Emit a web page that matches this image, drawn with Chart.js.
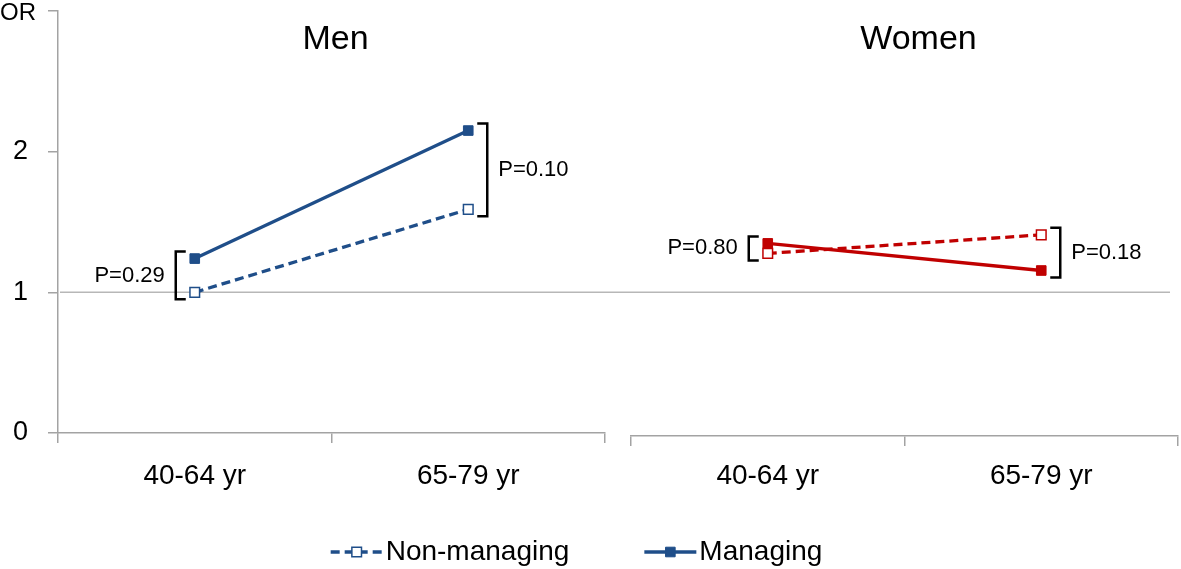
<!DOCTYPE html>
<html>
<head>
<meta charset="utf-8">
<script src="https://cdn.jsdelivr.net/npm/chart.js@4.4.0/dist/chart.umd.min.js"></script>
<style>
  html, body { margin: 0; padding: 0; background: #fff; }
  #wrap { position: relative; width: 1181px; height: 569px; overflow: hidden; }
  #wrap canvas { position: absolute; left: 0; top: 0; }
</style>
</head>
<body>
<div id="wrap">
  <canvas id="menChart" width="1181" height="569"></canvas>
  <canvas id="womenChart" width="1181" height="569"></canvas>
</div>
<script>
// données (OR)
const categories = ['40-64 yr', '65-79 yr'];
const panelTitles = ['Men', 'Women'];
const legendLabels = ['Non-managing', 'Managing'];
const menNonManaging = [1.00, 1.59];
const menManaging = [1.24, 2.15];
const womenNonManaging = [1.28, 1.41];
const womenManaging = [1.35, 1.16];
const menPValues = ['P=0.29', 'P=0.10'];
const womenPValues = ['P=0.80', 'P=0.18'];
const yTicks = [0, 1, 2, 3];
const yAxisTitle = 'OR';

const FONT = '"Liberation Sans", Arial, sans-serif';
const BLUE = '#1F4E89';
const RED = '#C00000';
const AXIS = '#A3A3A3';

Chart.defaults.font.family = FONT;
Chart.defaults.color = '#000';

function makeDatasets(nonData, mgData, color) {
    return [{
        label: legendLabels[0],
        data: nonData,
        borderColor: color,
        borderWidth: 3.3,
        borderDash: [9, 5],
        pointStyle: 'rect',
        pointRadius: 6.8,
        pointBackgroundColor: '#fff',
        pointBorderColor: color,
        pointBorderWidth: 1.5,
        tension: 0
    }, {
        label: legendLabels[1],
        data: mgData,
        borderColor: color,
        borderWidth: 3.3,
        pointStyle: 'rect',
        pointRadius: 6.8,
        pointBackgroundColor: color,
        pointBorderColor: color,
        pointBorderWidth: 1,
        tension: 0
    }];
}

// titre du panneau + crochets avec valeurs P
const panelDecor = {
    id: 'panelDecor',
    afterDatasetsDraw(chart, args, opts) {
        const ctx = chart.ctx;
        const area = chart.chartArea;
        ctx.save();
        ctx.fillStyle = '#000';
        ctx.font = '34px ' + FONT;
        ctx.textAlign = 'center';
        ctx.textBaseline = 'middle';
        ctx.fillText(opts.title, (area.left + area.right) / 2 + opts.titleShift, 40);

        const a = chart.getDatasetMeta(0).data;
        const b = chart.getDatasetMeta(1).data;
        ctx.strokeStyle = '#000';
        ctx.lineWidth = 2.5;
        ctx.lineJoin = 'miter';
        ctx.font = '22px ' + FONT;
        opts.pValues.forEach((txt, i) => {
            const top = Math.min(a[i].y, b[i].y) - 7;
            const bottom = Math.max(a[i].y, b[i].y) + 7;
            const dir = i === 0 ? -1 : 1;
            const x = a[i].x + dir * 19;
            ctx.beginPath();
            ctx.moveTo(x - dir * 10, top);
            ctx.lineTo(x, top);
            ctx.lineTo(x, bottom);
            ctx.lineTo(x - dir * 10, bottom);
            ctx.stroke();
            ctx.textAlign = dir < 0 ? 'right' : 'left';
            ctx.fillText(txt, x + dir * 11, (top + bottom) / 2);
        });
        ctx.restore();
    }
};

// ligne de référence OR=1, titre de l'axe et légende commune
const menExtras = {
    id: 'menExtras',
    beforeDatasetsDraw(chart) {
        const ctx = chart.ctx;
        const y = chart.scales.y.getPixelForValue(1);
        ctx.save();
        ctx.strokeStyle = '#B7B7B7';
        ctx.lineWidth = 1.5;
        ctx.beginPath();
        ctx.moveTo(chart.chartArea.left + 2, y);
        ctx.lineTo(chart.width - 11, y);
        ctx.stroke();
        ctx.restore();
    },
    afterDraw(chart) {
        const ctx = chart.ctx;
        ctx.save();
        ctx.fillStyle = '#000';
        ctx.font = '24px ' + FONT;
        ctx.textAlign = 'left';
        ctx.textBaseline = 'middle';
        ctx.fillText(yAxisTitle, 0, chart.scales.y.getPixelForValue(yTicks[yTicks.length - 1]) + 2);

        ctx.font = '28px ' + FONT;
        const sample = 52, gap = 3, itemGap = 75;
        const widths = legendLabels.map(t => ctx.measureText(t).width);
        const total = widths.reduce((s, w) => s + sample + gap + w, 0) + itemGap;
        let x = chart.width / 2 - 14 - total / 2;
        const y = 552;
        chart.data.datasets.forEach((ds, i) => {
            ctx.strokeStyle = ds.borderColor;
            ctx.lineWidth = ds.borderWidth;
            ctx.setLineDash(ds.borderDash || []);
            ctx.beginPath();
            ctx.moveTo(x, y);
            ctx.lineTo(x + sample, y);
            ctx.stroke();
            ctx.setLineDash([]);
            const s = ds.pointRadius * Math.SQRT1_2;
            ctx.fillStyle = ds.pointBackgroundColor;
            ctx.strokeStyle = ds.pointBorderColor;
            ctx.lineWidth = ds.pointBorderWidth;
            ctx.beginPath();
            ctx.rect(x + sample / 2 - s, y - s, 2 * s, 2 * s);
            ctx.fill();
            ctx.stroke();
            ctx.fillStyle = '#000';
            ctx.fillText(legendLabels[i], x + sample + gap, y);
            x += sample + gap + widths[i] + itemGap;
        });
        ctx.restore();
    }
};

function xScale(labelPad) {
    return {
        type: 'category',
        offset: true,
        grid: { offset: true, drawOnChartArea: false, tickLength: 10, color: AXIS, lineWidth: 1.5 },
        border: { color: AXIS, width: 1.5 },
        ticks: { font: { size: 28 }, padding: labelPad, color: '#000', maxRotation: 0 },
        afterFit: s => { s.height = 60; s.paddingLeft = 0; s.paddingRight = 0; }
    };
}

new Chart(document.getElementById('menChart'), {
    type: 'line',
    data: { labels: categories, datasets: makeDatasets(menNonManaging, menManaging, BLUE) },
    options: {
        responsive: false,
        animation: false,
        layout: { autoPadding: false, padding: { left: 0, top: 11, right: 576, bottom: 76 } },
        plugins: {
            legend: { display: false },
            tooltip: { enabled: false },
            panelDecor: { title: panelTitles[0], titleShift: 4, pValues: menPValues }
        },
        scales: {
            x: xScale(16),
            y: {
                min: yTicks[0],
                max: yTicks[yTicks.length - 1],
                afterBuildTicks: s => { s.ticks = yTicks.map(v => ({ value: v })); },
                grid: { drawOnChartArea: false, tickLength: 10, color: AXIS, lineWidth: 1.5 },
                border: { color: AXIS, width: 1.5 },
                ticks: {
                    font: { size: 27 },
                    padding: 20,
                    color: '#000',
                    callback: v => v < yTicks[yTicks.length - 1] ? String(v) : ''
                },
                afterFit: s => { s.width = 58; s.paddingTop = 0; s.paddingBottom = 0; }
            }
        }
    },
    plugins: [menExtras, panelDecor]
});

new Chart(document.getElementById('womenChart'), {
    type: 'line',
    data: { labels: categories, datasets: makeDatasets(womenNonManaging, womenManaging, RED) },
    options: {
        responsive: false,
        animation: false,
        layout: { autoPadding: false, padding: { left: 631, top: 8, right: 3, bottom: 73 } },
        plugins: {
            legend: { display: false },
            tooltip: { enabled: false },
            panelDecor: { title: panelTitles[1], titleShift: 14, pValues: womenPValues }
        },
        scales: {
            x: xScale(13),
            y: { display: false, min: yTicks[0], max: yTicks[yTicks.length - 1] }
        }
    },
    plugins: [panelDecor]
});
</script>
</body>
</html>
